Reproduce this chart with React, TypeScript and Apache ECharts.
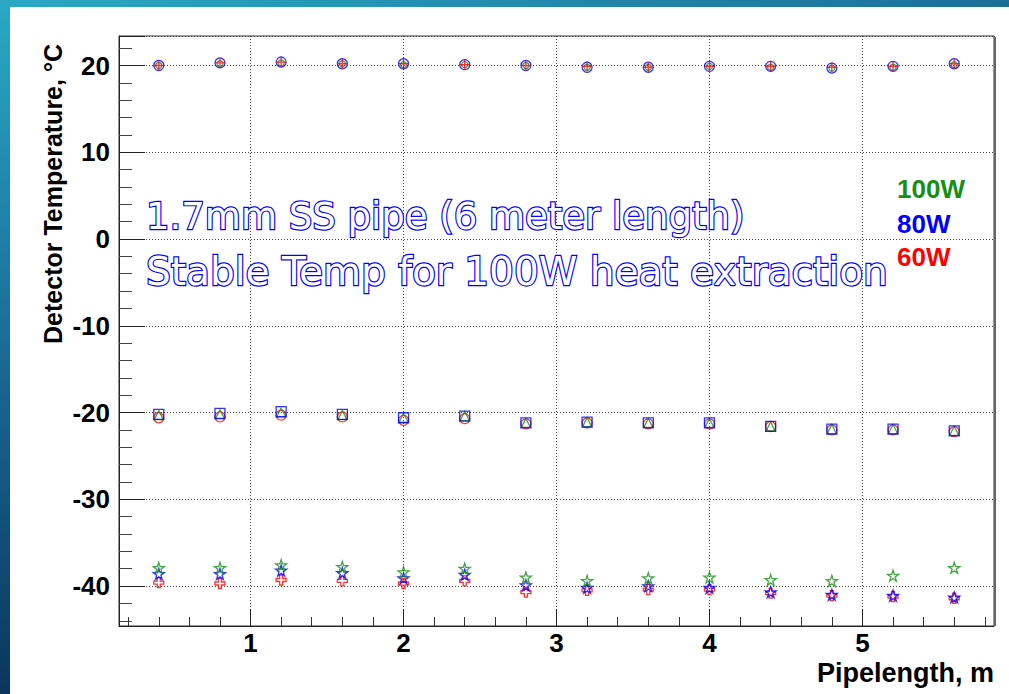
import React, { useEffect, useRef } from "react";
import * as echarts from "echarts";

// Pipe length positions (m)
const positions = [0.4, 0.8, 1.2, 1.6, 2.0, 2.4, 2.8, 3.2, 3.6, 4.0, 4.4, 4.8, 5.2, 5.6];

// Set near +20 °C
const warm100 = [20.0, 20.2, 20.3, 20.2, 20.1, 20.1, 20.0, 19.8, 19.8, 19.9, 19.8, 19.7, 19.8, 20.1];
const warm80 = [20.0, 20.3, 20.4, 20.2, 20.2, 20.1, 20.0, 19.8, 19.8, 19.9, 19.9, 19.7, 19.9, 20.2];
const warm60 = [20.0, 20.3, 20.4, 20.2, 20.2, 20.1, 20.0, 19.9, 19.8, 19.9, 19.9, 19.8, 19.9, 20.2];

// Set near -20 °C
const cold100 = [-20.3, -20.2, -20.0, -20.3, -20.6, -20.4, -21.2, -21.1, -21.2, -21.2, -21.6, -21.9, -21.9, -22.1];
const cold80 = [-20.2, -20.1, -19.9, -20.2, -20.6, -20.4, -21.2, -21.1, -21.2, -21.2, -21.6, -21.9, -21.9, -22.1];
const cold60 = [-20.6, -20.5, -20.3, -20.5, -20.9, -20.7, -21.3, -21.2, -21.3, -21.3, -21.6, -22.0, -22.0, -22.2];

// Set near -40 °C
const deep100 = [-37.9, -37.9, -37.6, -37.8, -38.4, -38.0, -39.0, -39.4, -39.1, -39.0, -39.3, -39.4, -38.8, -37.9];
const deep80 = [-38.6, -38.6, -38.2, -38.5, -39.1, -38.7, -39.9, -40.2, -40.0, -40.2, -40.7, -41.0, -41.1, -41.3];
const deep60 = [-39.6, -39.7, -39.3, -39.4, -39.7, -39.4, -40.7, -40.5, -40.4, -40.4, -40.8, -41.1, -41.2, -41.4];

const powerLabels = ["100W", "80W", "60W"];
const annotationLines = ["1.7mm SS pipe (6 meter length)", "Stable Temp for 100W heat extraction"];
const xTitle = "Pipelength, m";
const yTitle = "Detector Temperature, \u00B0C";

const GREEN = "#159015";
const BLUE = "#0000ff";
const RED = "#ff0000";

const STAR =
  "path://M50,0 L61.2,34.5 L97.6,34.5 L68.2,55.9 L79.4,90.5 L50,69.1 L20.6,90.5 L31.8,55.9 L2.4,34.5 L38.8,34.5 Z";
const OPEN_CROSS =
  "path://M35,0 L65,0 L65,35 L100,35 L100,65 L65,65 L65,100 L35,100 L35,65 L0,65 L0,35 L35,35 Z";
const PLUS = "path://M50,0 L50,100 M0,50 L100,50";

function pts(ys: number[]) {
  return positions.map((x, i) => [x, ys[i]]);
}

function mk(name: string, ys: number[], color: string, symbol: string, size: number, z: number) {
  return {
    name,
    type: "scatter",
    data: pts(ys),
    symbol,
    symbolSize: size,
    z,
    itemStyle: { color: "rgba(0,0,0,0)", borderColor: color, borderWidth: 1.3 },
    emphasis: { disabled: true },
  };
}

export default function App() {
  const ref = useRef<HTMLDivElement>(null);
  useEffect(() => {
    if (!ref.current) return;
    const chart = echarts.init(ref.current, undefined, { renderer: "svg" });
    const font = "'Liberation Sans', Arial, Helvetica, sans-serif";
    const annFont = "'DejaVu Sans', sans-serif";
    chart.setOption({
      animation: false,
      backgroundColor: "#ffffff",
      grid: {
        left: 119,
        top: 36,
        width: 875,
        height: 590,
        show: true,
        borderColor: "#333",
        borderWidth: 1,
        backgroundColor: "#fff",
      },
      xAxis: {
        type: "value",
        min: 0.14,
        max: 5.86,
        splitNumber: 5,
        axisLine: { show: true, onZero: false, lineStyle: { color: "#222", width: 1 } },
        axisTick: { show: true, inside: true, length: 17, lineStyle: { color: "#222" } },
        minorTick: { show: true, splitNumber: 5, length: 9, lineStyle: { color: "#333" } },
        axisLabel: {
          show: true,
          showMinLabel: false,
          showMaxLabel: false,
          margin: 4,
          fontSize: 26,
          fontWeight: "bold",
          fontFamily: font,
          color: "#000",
        },
        splitLine: { show: true, lineStyle: { color: "#444", type: [1, 2], width: 1 } },
      },
      yAxis: {
        type: "value",
        min: -44.6,
        max: 23.4,
        splitNumber: 5,
        axisLine: { show: true, onZero: false, lineStyle: { color: "#222", width: 1 } },
        axisTick: { show: true, inside: true, length: 26, lineStyle: { color: "#222" } },
        minorTick: { show: true, splitNumber: 5, length: 13, lineStyle: { color: "#444" } },
        axisLabel: {
          show: true,
          showMinLabel: false,
          showMaxLabel: false,
          margin: 9,
          fontSize: 26,
          fontWeight: "bold",
          fontFamily: font,
          color: "#000",
        },
        splitLine: { show: true, lineStyle: { color: "#444", type: [1, 2], width: 1 } },
      },
      series: [
        mk("100W +20", warm100, GREEN, "circle", 6, 2),
        mk("80W +20", warm80, BLUE, "circle", 10, 3),
        mk("60W +20", warm60, RED, PLUS, 10, 4),
        mk("60W -20", cold60, RED, "circle", 10, 2),
        mk("100W -20", cold100, GREEN, "triangle", 9, 3),
        mk("80W -20", cold80, BLUE, "rect", 10, 4),
        mk("60W -40", deep60, RED, OPEN_CROSS, 10, 2),
        mk("80W -40", deep80, BLUE, STAR, 11, 3),
        mk("100W -40", deep100, GREEN, STAR, 11, 4),
      ],
      graphic: [
        {
          type: "rect",
          z: 100,
          shape: { x: 0, y: 0, width: 1009, height: 7 },
          style: {
            fill: {
              type: "linear", x: 0, y: 0, x2: 1, y2: 0,
              colorStops: [
                { offset: 0, color: "#2aa9c7" },
                { offset: 1, color: "#1b6f97" },
              ],
            },
          },
        },
        {
          type: "rect",
          z: 100,
          shape: { x: 0, y: 0, width: 10, height: 694 },
          style: {
            fill: {
              type: "linear", x: 0, y: 0, x2: 0, y2: 1,
              colorStops: [
                { offset: 0, color: "#2aa9c7" },
                { offset: 0.5, color: "#1a6c96" },
                { offset: 1, color: "#0a365e" },
              ],
            },
          },
        },
        {
          type: "rect",
          z: 100,
          shape: { x: 994, y: 37, width: 2, height: 589 },
          style: { fill: "#666" },
        },
        {
          type: "text",
          z: 100,
          x: 146,
          y: 216,
          style: {
            text: annotationLines[0],
            fontSize: 37,
            fontFamily: annFont,
            fill: "#ffffff",
            stroke: BLUE,
            lineWidth: 2.4,
            align: "left",
            verticalAlign: "middle",
          },
        },
        {
          type: "text",
          z: 100,
          x: 146,
          y: 271,
          style: {
            text: annotationLines[1],
            fontSize: 39,
            fontFamily: annFont,
            fill: "#ffffff",
            stroke: BLUE,
            lineWidth: 2.4,
            align: "left",
            verticalAlign: "middle",
          },
        },
        {
          type: "text",
          z: 100,
          x: 897,
          y: 189,
          style: { text: powerLabels[0], fontSize: 26, fontWeight: "bold", fontFamily: font, fill: GREEN, align: "left", verticalAlign: "middle" },
        },
        {
          type: "text",
          z: 100,
          x: 897,
          y: 224,
          style: { text: powerLabels[1], fontSize: 26, fontWeight: "bold", fontFamily: font, fill: BLUE, align: "left", verticalAlign: "middle" },
        },
        {
          type: "text",
          z: 100,
          x: 897,
          y: 257,
          style: { text: powerLabels[2], fontSize: 26, fontWeight: "bold", fontFamily: font, fill: RED, align: "left", verticalAlign: "middle" },
        },
        {
          type: "text",
          z: 100,
          x: 994,
          y: 673,
          style: { text: xTitle, fontSize: 27, fontWeight: "bold", fontFamily: font, fill: "#000", align: "right", verticalAlign: "middle" },
        },
        {
          type: "text",
          z: 100,
          x: 53,
          y: 194,
          rotation: Math.PI / 2,
          style: { text: yTitle, fontSize: 25, fontWeight: "bold", fontFamily: font, fill: "#000", align: "center", verticalAlign: "middle" },
        },
      ],
    });
    return () => chart.dispose();
  }, []);
  return (
    <div style={{ position: "fixed", left: 0, top: 0, width: 1009, height: 694, background: "#fff" }}>
      <div ref={ref} style={{ width: 1009, height: 694 }} />
    </div>
  );
}
